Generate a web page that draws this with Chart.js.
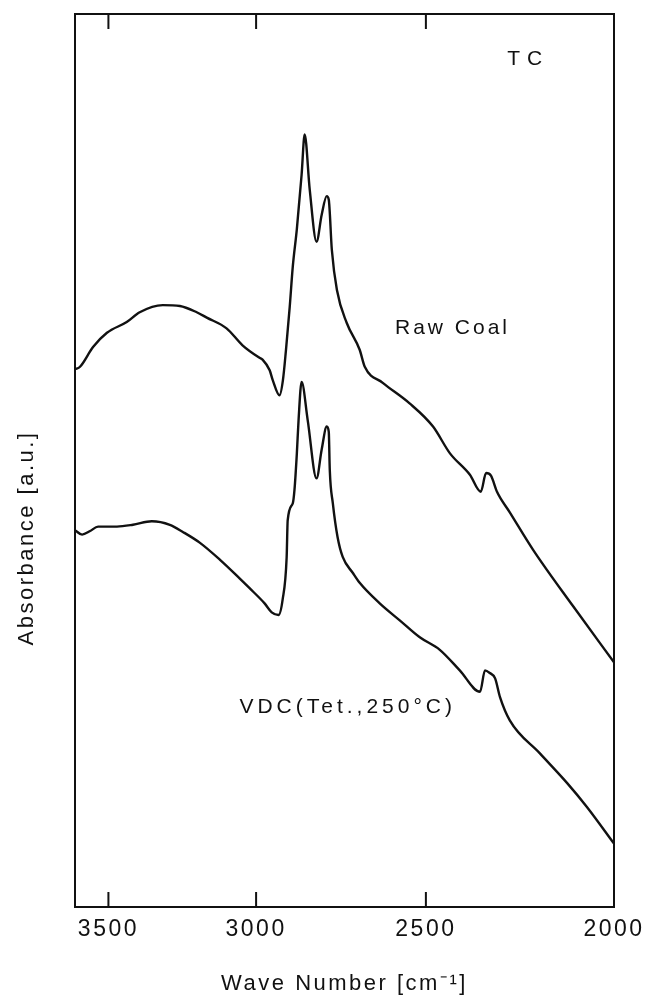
<!DOCTYPE html>
<html>
<head>
<meta charset="utf-8">
<script src="https://cdn.jsdelivr.net/npm/chart.js@4/dist/chart.umd.min.js"></script>
<style>
  body { margin: 0; background: #fff; }
  canvas { display: block; }
</style>
</head>
<body>
<canvas id="graficoIR" width="655" height="1002"></canvas>
<script>
// Datos (número de onda en cm-1, absorbancia en u.a.)
const rawWn = [3613, 3596, 3552, 3505, 3438, 3394, 3316, 3258, 3201, 3167, 3100, 3046, 2990, 2981, 2960, 2951, 2931, 2921, 2912, 2901, 2892, 2880, 2866, 2857, 2842, 2822, 2807, 2792, 2786, 2777, 2762, 2733, 2695, 2680, 2627, 2548, 2481, 2436, 2383, 2354, 2340, 2327, 2311, 2277, 2215, 2109, 2000];
const rawAbs = [60.2, 60.5, 62.7, 64.3, 65.5, 66.6, 67.4, 67.3, 66.6, 66.0, 64.8, 62.9, 61.5, 61.3, 60.1, 59.0, 57.3, 59.0, 62.4, 67.2, 71.7, 75.9, 82.0, 86.5, 80.3, 74.5, 77.5, 79.6, 79.2, 73.6, 69.1, 65.4, 62.4, 60.5, 58.7, 56.4, 53.8, 50.8, 48.4, 46.5, 48.6, 48.3, 46.5, 44.2, 40.0, 33.7, 27.4];

const vdcWn = [3613, 3589, 3562, 3535, 3471, 3417, 3353, 3292, 3248, 3191, 3123, 3056, 3022, 2975, 2954, 2934, 2922, 2910, 2907, 2892, 2887, 2880, 2875, 2866, 2848, 2822, 2807, 2792, 2786, 2783, 2774, 2760, 2745, 2715, 2695, 2636, 2577, 2518, 2463, 2410, 2356, 2343, 2330, 2316, 2303, 2277, 2197, 2125, 2072, 2000];
const vdcAbs = [42.2, 41.7, 42.1, 42.6, 42.6, 42.8, 43.2, 42.8, 42.0, 40.8, 38.9, 36.8, 35.7, 34.0, 33.0, 32.7, 34.4, 39.2, 43.3, 45.2, 46.7, 50.8, 54.5, 58.8, 54.5, 48.0, 51.2, 53.8, 53.2, 48.9, 45.2, 41.4, 39.2, 37.4, 36.3, 34.0, 32.1, 30.2, 28.8, 26.5, 24.1, 26.5, 26.2, 25.6, 23.5, 20.9, 17.2, 13.9, 11.2, 7.1];

const tickValues = [3500, 3000, 2500, 2000];

// El eje del original no es lineal: calibración por tramos
const calibWn = [3613, 3500, 3000, 2500, 2000];
const calibFrac = [0, 0.062, 0.336, 0.651, 1];

function interpolar(v, xs, ys) {
    for (let i = 0; i < xs.length - 1; i++) {
        const a = xs[i], b = xs[i + 1];
        const dentro = (v - a) * (v - b) <= 0;
        if (dentro || i === xs.length - 2) {
            return ys[i] + (v - a) / (b - a) * (ys[i + 1] - ys[i]);
        }
    }
    return ys[0];
}

class WaveScale extends Chart.LinearScale {
    getPixelForValue(v) {
        return this.getPixelForDecimal(interpolar(v, calibWn, calibFrac));
    }
    getValueForPixel(p) {
        return interpolar(this.getDecimalForPixel(p), calibFrac, calibWn);
    }
}
WaveScale.id = 'wave';
Chart.register(WaveScale);

function puntos(xs, ys) {
    return xs.map((x, i) => ({ x: x, y: ys[i] }));
}

const fuente = '"Liberation Sans", Arial, sans-serif';

// Marco, marcas hacia dentro y rótulos
const marcoPlugin = {
    id: 'marco',
    beforeDraw(chart) {
        chart.ctx.letterSpacing = '2.5px';
    },
    afterDraw(chart) {
        const { ctx, chartArea: a, scales: { x, y } } = chart;
        ctx.save();
        ctx.strokeStyle = '#111';
        ctx.lineWidth = 2;
        ctx.strokeRect(a.left, a.top, a.right - a.left, a.bottom - a.top);

        tickValues.slice(0, 3).forEach(v => {
            const px = x.getPixelForValue(v);
            ctx.beginPath();
            ctx.moveTo(px, a.top);
            ctx.lineTo(px, a.top + 15);
            ctx.moveTo(px, a.bottom);
            ctx.lineTo(px, a.bottom - 15);
            ctx.stroke();
        });

        ctx.fillStyle = '#111';
        ctx.textBaseline = 'middle';
        ctx.font = '21px ' + fuente;

        ctx.letterSpacing = '7px';
        ctx.textAlign = 'center';
        ctx.fillText('TC', x.getPixelForValue(2228), y.getPixelForValue(94.9));

        ctx.letterSpacing = '3px';
        ctx.textAlign = 'left';
        ctx.fillText('Raw Coal', x.getPixelForValue(2591), y.getPixelForValue(64.8));

        ctx.letterSpacing = '4px';
        ctx.textAlign = 'right';
        ctx.fillText('VDC(Tet.,250°C)', x.getPixelForValue(2420), y.getPixelForValue(22.4));

        // Título del eje Y
        ctx.font = '22px ' + fuente;
        ctx.letterSpacing = '2.5px';
        ctx.textAlign = 'center';
        ctx.translate(27, 538);
        ctx.rotate(-Math.PI / 2);
        ctx.fillText('Absorbance [a.u.]', 0, 0);
        ctx.restore();
    }
};

const ctx = document.getElementById('graficoIR').getContext('2d');

const chart = new Chart(ctx, {
    type: 'line',
    data: {
        datasets: [
            {
                label: 'Raw Coal',
                data: puntos(rawWn, rawAbs),
                borderColor: '#111',
                borderWidth: 2.4,
                pointRadius: 0,
                cubicInterpolationMode: 'monotone',
                fill: false
            },
            {
                label: 'VDC(Tet.,250°C)',
                data: puntos(vdcWn, vdcAbs),
                borderColor: '#111',
                borderWidth: 2.4,
                pointRadius: 0,
                cubicInterpolationMode: 'monotone',
                fill: false
            }
        ]
    },
    options: {
        responsive: false,
        animation: false,
        layout: {
            padding: { left: 75, right: 41, top: 14, bottom: 0 }
        },
        plugins: {
            legend: { display: false },
            tooltip: { enabled: false }
        },
        scales: {
            x: {
                type: 'wave',
                min: 2000,
                max: 3613,
                afterBuildTicks: (scale) => {
                    scale.ticks = tickValues.map(v => ({ value: v }));
                },
                afterFit: (scale) => {
                    scale.height = 95;
                },
                grid: { display: false, drawTicks: false },
                border: { display: false },
                ticks: {
                    color: '#111',
                    padding: 9,
                    maxRotation: 0,
                    autoSkip: false,
                    font: { family: fuente, size: 23 },
                    callback: (v) => String(v)
                },
                title: {
                    display: true,
                    text: 'Wave Number [cm⁻¹]',
                    color: '#111',
                    padding: { top: 0, bottom: 5 },
                    font: { family: fuente, size: 22 }
                }
            },
            y: {
                type: 'linear',
                display: false,
                min: 0,
                max: 100
            }
        }
    },
    plugins: [marcoPlugin]
});
</script>
</body>
</html>
